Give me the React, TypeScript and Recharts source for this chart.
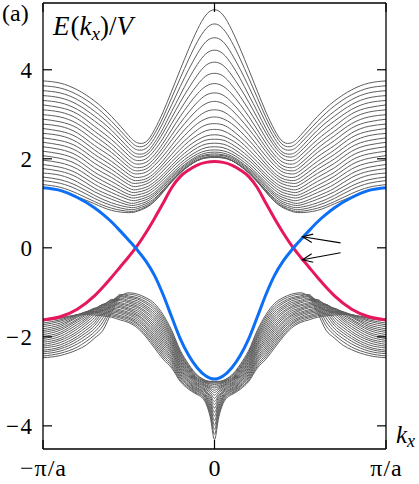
import React from 'react';
import { LineChart, Line, XAxis, YAxis, ReferenceLine } from 'recharts';

// ---------- data (k in units of pi/a, energies in units of V) ----------
// momentum grid (k >= 0; the spectrum is symmetric in k)
const kUpper = [0, 0.05, 0.1, 0.15, 0.2, 0.25, 0.3, 0.35, 0.4, 0.45, 0.5, 0.6, 0.7, 0.8, 0.9, 1.0];

// upper bulk band: for each k in kUpper, the energies of the 25 bulk lines (bottom to top)
const upperBandAtK = [
  [2.03, 2.03, 2.04, 2.05, 2.08, 2.11, 2.15, 2.20, 2.27, 2.35, 2.44, 2.54, 2.66, 2.79, 2.94, 3.10, 3.29, 3.48, 3.69, 3.92, 4.17, 4.44, 4.72, 5.03, 5.35],
  [2.02, 2.02, 2.03, 2.04, 2.07, 2.09, 2.13, 2.18, 2.25, 2.33, 2.42, 2.51, 2.63, 2.76, 2.90, 3.06, 3.24, 3.43, 3.63, 3.86, 4.10, 4.36, 4.63, 4.92, 5.23],
  [1.96, 1.96, 1.96, 1.97, 2.00, 2.03, 2.06, 2.11, 2.17, 2.25, 2.33, 2.42, 2.53, 2.65, 2.79, 2.93, 3.10, 3.27, 3.46, 3.66, 3.88, 4.12, 4.36, 4.63, 4.90],
  [1.84, 1.84, 1.85, 1.85, 1.88, 1.91, 1.94, 1.99, 2.05, 2.12, 2.20, 2.29, 2.39, 2.49, 2.62, 2.75, 2.90, 3.05, 3.22, 3.40, 3.59, 3.80, 4.01, 4.24, 4.47],
  [1.68, 1.68, 1.69, 1.70, 1.73, 1.76, 1.79, 1.84, 1.90, 1.97, 2.04, 2.12, 2.21, 2.31, 2.42, 2.54, 2.67, 2.80, 2.95, 3.10, 3.27, 3.43, 3.62, 3.81, 4.00],
  [1.48, 1.48, 1.50, 1.51, 1.55, 1.58, 1.62, 1.66, 1.72, 1.79, 1.85, 1.93, 2.01, 2.10, 2.20, 2.30, 2.42, 2.53, 2.65, 2.79, 2.92, 3.06, 3.21, 3.37, 3.52],
  [1.25, 1.26, 1.28, 1.30, 1.34, 1.38, 1.42, 1.47, 1.53, 1.59, 1.65, 1.73, 1.81, 1.88, 1.96, 2.06, 2.16, 2.25, 2.35, 2.46, 2.58, 2.68, 2.81, 2.93, 3.05],
  [1.04, 1.05, 1.08, 1.11, 1.16, 1.20, 1.24, 1.30, 1.36, 1.42, 1.48, 1.55, 1.62, 1.68, 1.76, 1.85, 1.93, 2.01, 2.09, 2.19, 2.28, 2.36, 2.46, 2.56, 2.65],
  [0.90, 0.92, 0.95, 0.99, 1.03, 1.08, 1.13, 1.18, 1.24, 1.30, 1.36, 1.43, 1.49, 1.55, 1.62, 1.70, 1.77, 1.84, 1.92, 2.00, 2.08, 2.14, 2.23, 2.31, 2.38],
  [0.82, 0.84, 0.88, 0.92, 0.97, 1.02, 1.07, 1.13, 1.19, 1.25, 1.31, 1.38, 1.45, 1.51, 1.58, 1.66, 1.73, 1.80, 1.88, 1.96, 2.04, 2.11, 2.20, 2.28, 2.36],
  [0.79, 0.82, 0.86, 0.91, 0.96, 1.01, 1.08, 1.14, 1.20, 1.27, 1.34, 1.42, 1.49, 1.57, 1.65, 1.73, 1.81, 1.89, 1.98, 2.07, 2.16, 2.24, 2.34, 2.43, 2.52],
  [0.84, 0.89, 0.95, 1.01, 1.09, 1.16, 1.24, 1.32, 1.40, 1.49, 1.58, 1.67, 1.76, 1.85, 1.94, 2.04, 2.14, 2.23, 2.33, 2.43, 2.54, 2.64, 2.74, 2.84, 2.95],
  [0.99, 1.04, 1.11, 1.18, 1.26, 1.34, 1.43, 1.52, 1.61, 1.70, 1.80, 1.90, 2.00, 2.10, 2.20, 2.30, 2.41, 2.52, 2.62, 2.73, 2.85, 2.96, 3.07, 3.19, 3.30],
  [1.15, 1.22, 1.31, 1.39, 1.48, 1.58, 1.67, 1.77, 1.87, 1.97, 2.07, 2.17, 2.27, 2.37, 2.48, 2.58, 2.69, 2.79, 2.90, 3.01, 3.11, 3.22, 3.33, 3.44, 3.55],
  [1.29, 1.36, 1.45, 1.53, 1.63, 1.72, 1.81, 1.91, 2.01, 2.11, 2.21, 2.31, 2.41, 2.52, 2.62, 2.73, 2.83, 2.94, 3.05, 3.15, 3.26, 3.37, 3.48, 3.59, 3.70],
  [1.35, 1.42, 1.51, 1.59, 1.68, 1.78, 1.87, 1.97, 2.07, 2.17, 2.27, 2.37, 2.47, 2.57, 2.68, 2.78, 2.89, 2.99, 3.10, 3.21, 3.31, 3.42, 3.53, 3.64, 3.75],
];

const kLower = [0, 0.025, 0.05, 0.075, 0.1, 0.15, 0.2, 0.25, 0.3, 0.35, 0.4, 0.45, 0.5, 0.55, 0.6, 0.65, 0.7, 0.75, 0.8, 0.9, 1.0];

// lower bulk band: one row per bulk line, values at kLower
const lowerBandLines = [
  [-4.31, -3.80, -3.50, -3.36, -3.30, -3.18, -3.00, -2.70, -2.50, -2.25, -2.00, -1.80, -1.68, -1.62, -1.56, -1.53, -1.51, -1.50, -1.51, -1.57, -1.60],
  [-4.19, -3.74, -3.46, -3.33, -3.28, -3.15, -2.97, -2.66, -2.45, -2.20, -1.96, -1.76, -1.65, -1.58, -1.53, -1.50, -1.48, -1.48, -1.50, -1.59, -1.64],
  [-4.08, -3.68, -3.43, -3.31, -3.26, -3.12, -2.93, -2.62, -2.40, -2.15, -1.91, -1.72, -1.61, -1.55, -1.50, -1.47, -1.45, -1.46, -1.50, -1.62, -1.69],
  [-3.98, -3.62, -3.39, -3.28, -3.23, -3.10, -2.90, -2.57, -2.35, -2.10, -1.87, -1.69, -1.58, -1.52, -1.47, -1.44, -1.43, -1.44, -1.51, -1.65, -1.73],
  [-3.88, -3.56, -3.36, -3.26, -3.21, -3.07, -2.86, -2.53, -2.30, -2.05, -1.82, -1.65, -1.55, -1.48, -1.44, -1.41, -1.40, -1.44, -1.52, -1.69, -1.77],
  [-3.78, -3.50, -3.33, -3.23, -3.19, -3.04, -2.83, -2.49, -2.25, -2.00, -1.78, -1.61, -1.51, -1.45, -1.41, -1.38, -1.38, -1.44, -1.54, -1.73, -1.82],
  [-3.69, -3.45, -3.30, -3.21, -3.17, -3.01, -2.79, -2.45, -2.20, -1.95, -1.74, -1.57, -1.48, -1.42, -1.38, -1.35, -1.36, -1.46, -1.56, -1.77, -1.86],
  [-3.60, -3.40, -3.26, -3.19, -3.15, -2.98, -2.76, -2.40, -2.15, -1.90, -1.69, -1.53, -1.45, -1.39, -1.35, -1.33, -1.36, -1.48, -1.60, -1.81, -1.90],
  [-3.52, -3.35, -3.23, -3.16, -3.12, -2.96, -2.72, -2.36, -2.10, -1.85, -1.65, -1.50, -1.41, -1.35, -1.32, -1.30, -1.37, -1.51, -1.63, -1.85, -1.95],
  [-3.45, -3.31, -3.21, -3.14, -3.10, -2.93, -2.69, -2.32, -2.05, -1.80, -1.60, -1.46, -1.38, -1.32, -1.29, -1.28, -1.39, -1.55, -1.67, -1.90, -1.99],
  [-3.38, -3.26, -3.18, -3.12, -3.08, -2.90, -2.65, -2.28, -2.00, -1.75, -1.56, -1.42, -1.35, -1.29, -1.26, -1.27, -1.42, -1.59, -1.72, -1.94, -2.04],
  [-3.31, -3.22, -3.15, -3.09, -3.06, -2.87, -2.62, -2.23, -1.95, -1.70, -1.52, -1.38, -1.31, -1.26, -1.23, -1.27, -1.46, -1.63, -1.77, -1.99, -2.08],
  [-3.25, -3.18, -3.12, -3.07, -3.04, -2.84, -2.58, -2.19, -1.90, -1.65, -1.47, -1.34, -1.28, -1.23, -1.20, -1.29, -1.51, -1.68, -1.82, -2.04, -2.12],
  [-3.20, -3.15, -3.10, -3.05, -3.01, -2.82, -2.55, -2.15, -1.85, -1.60, -1.43, -1.31, -1.24, -1.19, -1.18, -1.32, -1.57, -1.73, -1.88, -2.08, -2.17],
  [-3.15, -3.12, -3.08, -3.03, -2.99, -2.79, -2.51, -2.11, -1.80, -1.55, -1.38, -1.27, -1.21, -1.16, -1.16, -1.36, -1.63, -1.79, -1.93, -2.13, -2.21],
  [-3.11, -3.09, -3.05, -3.01, -2.97, -2.76, -2.48, -2.06, -1.75, -1.50, -1.34, -1.23, -1.18, -1.13, -1.18, -1.42, -1.69, -1.85, -1.99, -2.18, -2.25],
  [-3.07, -3.06, -3.03, -2.99, -2.95, -2.73, -2.44, -2.02, -1.70, -1.45, -1.30, -1.19, -1.14, -1.10, -1.20, -1.49, -1.75, -1.91, -2.04, -2.23, -2.30],
  [-3.04, -3.04, -3.02, -2.97, -2.93, -2.70, -2.41, -1.98, -1.65, -1.40, -1.25, -1.15, -1.11, -1.08, -1.24, -1.57, -1.82, -1.97, -2.10, -2.27, -2.34],
  [-3.02, -3.02, -3.00, -2.96, -2.90, -2.68, -2.37, -1.94, -1.60, -1.35, -1.21, -1.12, -1.08, -1.05, -1.29, -1.66, -1.89, -2.04, -2.16, -2.32, -2.38],
  [-3.01, -3.01, -2.99, -2.94, -2.88, -2.65, -2.34, -1.89, -1.55, -1.30, -1.16, -1.08, -1.04, -1.07, -1.37, -1.75, -1.96, -2.11, -2.23, -2.37, -2.43],
  [-3.00, -3.00, -2.98, -2.93, -2.86, -2.62, -2.30, -1.85, -1.50, -1.25, -1.12, -1.04, -1.01, -1.10, -1.45, -1.85, -2.03, -2.19, -2.29, -2.42, -2.47],
];

// edge states
const kEdge = [0, 0.05, 0.1, 0.15, 0.2, 0.25, 0.3, 0.35, 0.4, 0.45, 0.5, 0.55, 0.6, 0.65, 0.7, 0.8, 0.9, 1.0];
const redEdgeState = [1.94, 1.92, 1.86, 1.75, 1.60, 1.35, 1.00, 0.66, 0.34, 0.05, -0.20, -0.43, -0.66, -0.88, -1.08, -1.38, -1.55, -1.62];
const blueEdgeState = [-2.95, -2.88, -2.70, -2.42, -2.04, -1.55, -1.05, -0.62, -0.30, -0.05, 0.17, 0.38, 0.58, 0.75, 0.90, 1.13, 1.29, 1.35];

const xTicks = [-1, 0, 1];
const xTickLabels = ['\u2212\u03c0/a', '0', '\u03c0/a'];
const yTicks = [-4, -2, 0, 2, 4];
const yTickLabels = ['\u22124', '\u22122', '0', '2', '4'];

// annotation arrows (tail -> head), in data coordinates
const arrowTails = [[0.735, 0.11], [0.735, -0.11]];
const arrowHeads = [[0.513, 0.25], [0.513, -0.27]];

// ---------- building series ----------
const mirror = (ks: number[], vals: number[]) => [
  ...ks.slice(1).map((k, j) => ({ k: -k, E: vals[j + 1] })).reverse(),
  ...ks.map((k, j) => ({ k, E: vals[j] })),
];

const upperLines = upperBandAtK[0].map((_, i) => mirror(kUpper, upperBandAtK.map((col) => col[i])));
const lowerLines = lowerBandLines.map((v) => mirror(kLower, v));
const redData = mirror(kEdge, redEdgeState);
const blueData = mirror(kEdge, blueEdgeState);

const SERIF = "'Liberation Serif', 'Times New Roman', serif";
const GRAY = '#5e5e5e';
const RED = '#e6185c';
const BLUE = '#0d6ff5';
const TICK_LEN = 9;

const LeftTick = (props: any) => {
  const { x, y, payload } = props;
  const idx = yTicks.indexOf(payload.value);
  return (
    <g>
      <line x1={x} y1={y} x2={x + TICK_LEN} y2={y} stroke="#000" strokeWidth={1.2} />
      <text x={x - 9.5} y={y + 8} textAnchor="end" fontSize={23} letterSpacing={1.5} fontFamily={SERIF} fill="#000">
        {yTickLabels[idx]}
      </text>
    </g>
  );
};

const RightTick = (props: any) => {
  const { x, y } = props;
  return <line x1={x} y1={y} x2={x - TICK_LEN} y2={y} stroke="#000" strokeWidth={1.2} />;
};

const BottomTick = (props: any) => {
  const { x, y, payload } = props;
  const idx = xTicks.indexOf(payload.value);
  return (
    <g>
      <line x1={x} y1={y} x2={x} y2={y - TICK_LEN} stroke="#000" strokeWidth={1.2} />
      <text x={x + 0.5} y={y + 27} textAnchor="middle" fontSize={24} letterSpacing={1} fontFamily={SERIF} fill="#000">
        {xTickLabels[idx]}
      </text>
    </g>
  );
};

const TopTick = (props: any) => {
  const { x, y } = props;
  return <line x1={x} y1={y} x2={x} y2={y + TICK_LEN} stroke="#000" strokeWidth={1.2} />;
};

const ArrowShape = (props: any) => {
  const { x1, y1, x2, y2 } = props;
  if ([x1, y1, x2, y2].some((v) => typeof v !== 'number' || isNaN(v))) return <g />;
  const ang = Math.atan2(y2 - y1, x2 - x1);
  const L = 11;
  const a = 0.4;
  const p1x = x2 - L * Math.cos(ang - a);
  const p1y = y2 - L * Math.sin(ang - a);
  const p2x = x2 - L * Math.cos(ang + a);
  const p2y = y2 - L * Math.sin(ang + a);
  return (
    <g>
      <line x1={x1} y1={y1} x2={x2} y2={y2} stroke="#000" strokeWidth={1.1} />
      <polyline points={`${p1x},${p1y} ${x2},${y2} ${p2x},${p2y}`} fill="none" stroke="#000" strokeWidth={1.1} />
    </g>
  );
};

const axisLineStyle = { stroke: '#000', strokeWidth: 1.3 };

export default function App() {
  return (
    <div style={{ position: 'absolute', left: 0, top: 0, width: 419, height: 484, background: '#fff' }}>
      <LineChart width={419} height={484} margin={{ top: 0, right: 0, bottom: 0, left: 0 }}>
        <XAxis
          xAxisId={0}
          dataKey="k"
          type="number"
          domain={[-1, 1]}
          ticks={xTicks}
          allowDataOverflow
          height={35}
          tickSize={0}
          tickMargin={0}
          tickLine={false}
          interval={0}
          axisLine={axisLineStyle}
          tick={BottomTick}
        />
        <XAxis
          xAxisId="top"
          orientation="top"
          dataKey="k"
          type="number"
          domain={[-1, 1]}
          ticks={xTicks}
          allowDataOverflow
          height={3}
          tickSize={0}
          tickMargin={0}
          tickLine={false}
          interval={0}
          axisLine={axisLineStyle}
          tick={TopTick}
        />
        <YAxis
          yAxisId={0}
          type="number"
          domain={[-4.52, 5.5]}
          ticks={yTicks}
          allowDataOverflow
          width={43}
          tickSize={0}
          tickMargin={0}
          tickLine={false}
          interval={0}
          axisLine={axisLineStyle}
          tick={LeftTick}
        />
        <YAxis
          yAxisId="right"
          orientation="right"
          type="number"
          domain={[-4.52, 5.5]}
          ticks={yTicks}
          allowDataOverflow
          width={33}
          tickSize={0}
          tickMargin={0}
          tickLine={false}
          interval={0}
          axisLine={axisLineStyle}
          tick={RightTick}
        />
        {upperLines.map((d, i) => (
          <Line
            key={'up' + i}
            data={d}
            dataKey="E"
            type="natural"
            stroke={GRAY}
            strokeWidth={1}
            dot={false}
            activeDot={false}
            isAnimationActive={false}
          />
        ))}
        {lowerLines.map((d, i) => (
          <Line
            key={'lo' + i}
            data={d}
            dataKey="E"
            type="monotone"
            stroke={GRAY}
            strokeWidth={1}
            dot={false}
            activeDot={false}
            isAnimationActive={false}
          />
        ))}
        <Line data={redData} dataKey="E" type="monotone" stroke={RED} strokeWidth={3} dot={false} activeDot={false} isAnimationActive={false} />
        <Line data={blueData} dataKey="E" type="monotone" stroke={BLUE} strokeWidth={3} dot={false} activeDot={false} isAnimationActive={false} />
        {arrowTails.map((t, i) => (
          <ReferenceLine
            key={'ar' + i}
            segment={[
              { x: t[0], y: t[1] },
              { x: arrowHeads[i][0], y: arrowHeads[i][1] },
            ]}
            stroke="#000"
            ifOverflow="visible"
            shape={ArrowShape}
          />
        ))}
      </LineChart>
      <svg width={419} height={484} style={{ position: 'absolute', left: 0, top: 0, pointerEvents: 'none' }}>
        <text x={2} y={21} fontSize={24} fontFamily={SERIF} fill="#000">(a)</text>
        <text x={53} y={35} fontSize={27} fontFamily={SERIF} fill="#000">
          <tspan fontStyle="italic">E</tspan>
          <tspan dx={1}>(</tspan>
          <tspan fontStyle="italic">k</tspan>
          <tspan fontStyle="italic" fontSize={19} dy={5}>x</tspan>
          <tspan dy={-5}>)/</tspan>
          <tspan fontStyle="italic">V</tspan>
        </text>
        <text x={396} y={443} fontSize={25} fontFamily={SERIF} fontStyle="italic" fill="#000">
          k<tspan fontSize={18} dy={4}>x</tspan>
        </text>
      </svg>
    </div>
  );
}
